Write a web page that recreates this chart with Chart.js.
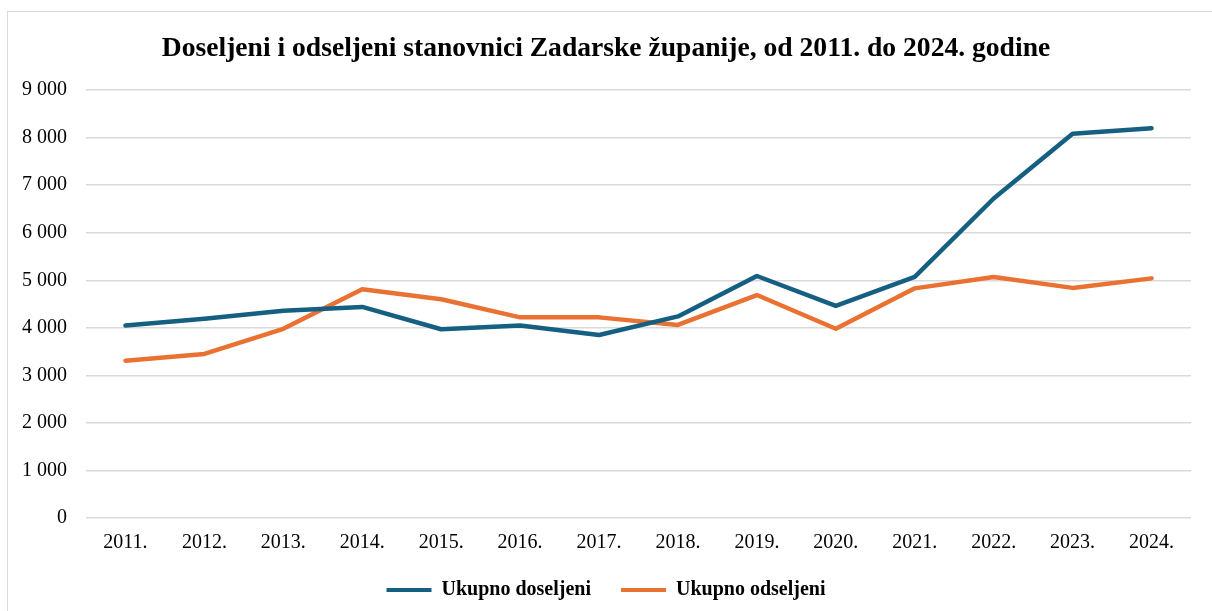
<!DOCTYPE html>
<html>
<head>
<meta charset="utf-8">
<script src="https://cdn.jsdelivr.net/npm/chart.js@4.4.1/dist/chart.umd.min.js"></script>
<style>
  html, body { margin: 0; padding: 0; background: #fff; }
  #wrap { position: relative; width: 1212px; height: 611px; overflow: hidden; }
  #frame { position: absolute; left: 7px; top: 11px; width: 1230px; height: 640px; border: 1px solid #d9d9d9; box-sizing: border-box; }
  canvas { position: absolute; left: 0; top: 0; }
</style>
</head>
<body>
<div id="wrap">
  <div id="frame"></div>
  <canvas id="c" width="1212" height="611"></canvas>
</div>
<script>
const titleText = 'Doseljeni i odseljeni stanovnici Zadarske županije, od 2011. do 2024. godine';
const years = ['2011.', '2012.', '2013.', '2014.', '2015.', '2016.', '2017.', '2018.', '2019.', '2020.', '2021.', '2022.', '2023.', '2024.'];
const doseljeni = [4050, 4190, 4360, 4440, 3970, 4050, 3850, 4240, 5090, 4460, 5070, 6720, 8080, 8200];
const odseljeni = [3310, 3450, 3980, 4810, 4600, 4220, 4220, 4060, 4690, 3980, 4830, 5070, 4840, 5040];
const seriesNames = ['Ukupno doseljeni', 'Ukupno odseljeni'];
const yTicks = [0, 1000, 2000, 3000, 4000, 5000, 6000, 7000, 8000, 9000];

const BLUE = '#156082';
const ORANGE = '#E97132';
const serif = "'Liberation Serif', 'Times New Roman', serif";

new Chart(document.getElementById('c'), {
  type: 'line',
  data: {
    labels: years,
    datasets: [
      { label: seriesNames[0], data: doseljeni, borderColor: BLUE, backgroundColor: BLUE, borderWidth: 4.5, pointRadius: 0, tension: 0, borderCapStyle: 'round', borderJoinStyle: 'round' },
      { label: seriesNames[1], data: odseljeni, borderColor: ORANGE, backgroundColor: ORANGE, borderWidth: 4.5, pointRadius: 0, tension: 0, borderCapStyle: 'round', borderJoinStyle: 'round' }
    ]
  },
  options: {
    responsive: false,
    animation: false,
    layout: { padding: { left: 21, right: 21, top: 0, bottom: 1 } },
    plugins: {
      title: {
        display: true,
        text: titleText,
        color: '#000',
        font: { family: serif, size: 27.6, weight: 'bold', lineHeight: 1.2 },
        padding: { top: 32, bottom: 25 }
      },
      legend: {
        display: true,
        position: 'bottom',
        labels: {
          color: '#000',
          font: { family: serif, size: 20, weight: 'bold' },
          boxWidth: 45,
          boxHeight: 4,
          padding: 30,
          generateLabels(chart) {
            return chart.data.datasets.map((d, i) => ({
              text: d.label, fillStyle: d.borderColor, strokeStyle: d.borderColor,
              lineWidth: 0, hidden: false, datasetIndex: i, fontColor: '#000'
            }));
          }
        }
      },
      tooltip: { enabled: false }
    },
    scales: {
      x: {
        offset: true,
        afterFit(scale) { scale.height = 32; },
        grid: { display: false, drawTicks: false },
        border: { display: false },
        ticks: { color: '#000', font: { family: serif, size: 20 }, padding: 13, maxRotation: 0, autoSkip: false }
      },
      y: {
        min: 0, max: 9000,
        afterFit(scale) { scale.width = 65; },
        afterBuildTicks(scale) { scale.ticks = yTicks.map(v => ({ value: v })); },
        grid: { color: '#d9d9d9', lineWidth: 1.5, drawTicks: false },
        border: { display: false },
        ticks: {
          color: '#000', font: { family: serif, size: 20 }, padding: 19,
          callback: v => String(v).replace(/\B(?=(\d{3})+(?!\d))/g, ' ')
        }
      }
    }
  }
});
</script>
</body>
</html>
